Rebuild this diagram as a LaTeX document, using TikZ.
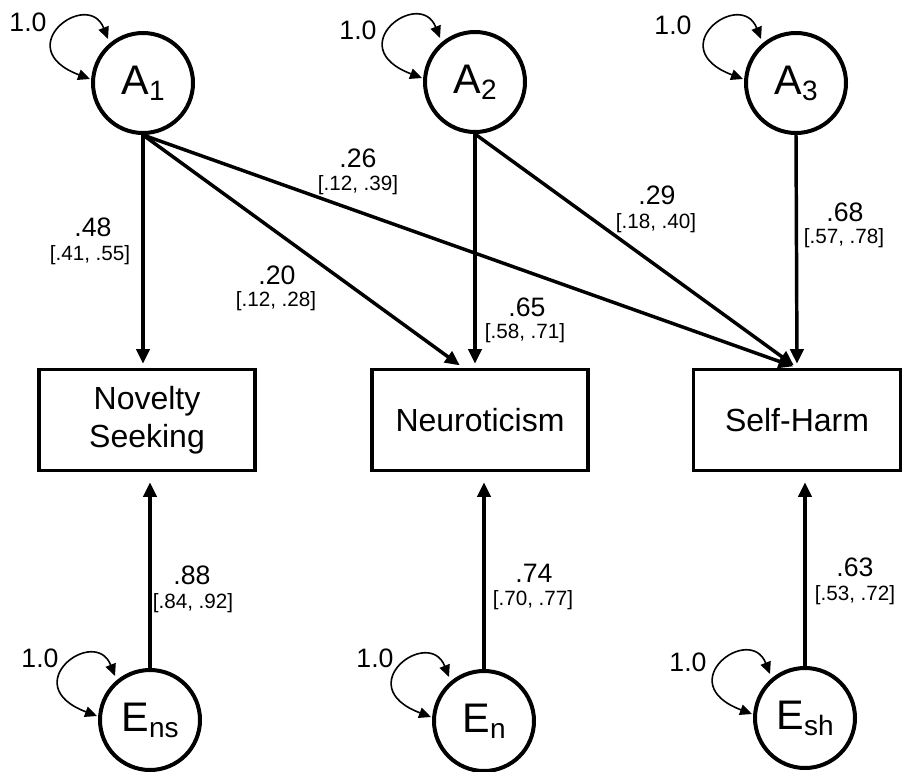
\documentclass[tikz,border=0pt]{standalone}
\usepackage{fontspec}
\setmainfont{Liberation Sans}
\usetikzlibrary{arrows.meta,calc}
\newcommand{\latname}[2]{{\fontsize{31}{36}\selectfont #1\raisebox{-4.5pt}{\fontsize{21}{24}\selectfont #2}}}
\newcommand{\selfloop}[1]{\draw[varloop] ($(#1)+(-35,-44)$) .. controls ($(#1)+(-55,-95)$) and ($(#1)+(-135,-35)$) .. ($(#1)+(-53,-4)$);}
\begin{document}
\begin{tikzpicture}[x=0.75pt,y=-0.75pt,
  latent/.style={circle,draw,line width=3pt,minimum size=75pt,inner sep=0pt,fill=white},
  obs/.style={rectangle,draw,line width=2.7pt,minimum width=162pt,minimum height=75.75pt,align=center,font=\fontsize{24}{28.5}\selectfont,fill=white},
  pathar/.style={line width=2.6pt,-{Triangle[length=11pt,width=10pt]},shorten >=3pt},
  resar/.style={line width=2.6pt,-{Triangle[length=11pt,width=10pt]},shorten >=7.5pt},
  varloop/.style={line width=1.2pt,{Triangle[length=9pt,width=8pt]}-{Triangle[length=9pt,width=8pt]}},
  coef/.style={font=\fontsize{20}{22}\selectfont,inner sep=0pt},
  ci/.style={font=\fontsize{15.5}{17}\selectfont,inner sep=0pt},
]
\useasboundingbox (0,0) rectangle (903,771);

% latent variables
\node[latent] (A1) at (143,83) {\latname{A}{1}};
\node[latent] (A2) at (475,82) {\latname{A}{2}};
\node[latent] (A3) at (796,83) {\latname{A}{3}};
\node[latent] (Ens) at (150,720) {\latname{E}{ns}};
\node[latent] (En) at (484,721) {\latname{E}{n}};
\node[latent] (Esh) at (805,718) {\latname{E}{sh}};

% observed
\node[obs] (NS) at (147,420) {Novelty\\Seeking};
\node[obs] (N) at (480,420) {Neuroticism};
\node[obs,minimum width=155pt] (SH) at (797,420) {Self-Harm};

% variance loops
\selfloop{A1}
\selfloop{A2}
\selfloop{A3}
\selfloop{Ens}
\selfloop{En}
\selfloop{Esh}
\node[coef] (v1) at (28,22) {1.0};
\node[coef] (v2) at (358,30) {1.0};
\node[coef] (v3) at (673,25) {1.0};
\node[coef] (v4) at (40,658) {1.0};
\node[coef] (v5) at (375,658) {1.0};
\node[coef] (v6) at (688,662) {1.0};

% paths
\draw[pathar] (A1.south) -- (A1.south |- NS.north);
\draw[pathar] (A1.south) -- ($(N.north)+(-17,0)$);
\draw[pathar] (A1.south) -- (SH.north);
\draw[pathar] (A2.south) -- (A2.south |- N.north);
\draw[pathar] (A2.south) -- (SH.north);
\draw[pathar] (A3.south) -- (SH.north);
\draw[resar] (Ens.north) -- (Ens.north |- NS.south);
\draw[resar] (En.north) -- (En.north |- N.south);
\draw[resar] (Esh.north) -- (Esh.north |- SH.south);

% labels
\node[coef] (l48) at (93,227) {.48};
\node[ci] (c48) at (90,255) {[.41, .55]};
\node[coef] (l20) at (277,275) {.20};
\node[ci] (c20) at (276,301) {[.12, .28]};
\node[coef] (l26) at (358,158) {.26};
\node[ci] (c26) at (358,185) {[.12, .39]};
\node[coef] (l65) at (527,307) {.65};
\node[ci] (c65) at (525,333) {[.58, .71]};
\node[coef] (l29) at (657,195) {.29};
\node[ci] (c29) at (656,223) {[.18, .40]};
\node[coef] (l68) at (845,212) {.68};
\node[ci] (c68) at (844,238) {[.57, .78]};
\node[coef] (l88) at (192,575) {.88};
\node[ci] (c88) at (193,603) {[.84, .92]};
\node[coef] (l74) at (534,573) {.74};
\node[ci] (c74) at (533,600) {[.70, .77]};
\node[coef] (l63) at (855,567) {.63};
\node[ci] (c63) at (855,595) {[.53, .72]};
\end{tikzpicture}
\end{document}
